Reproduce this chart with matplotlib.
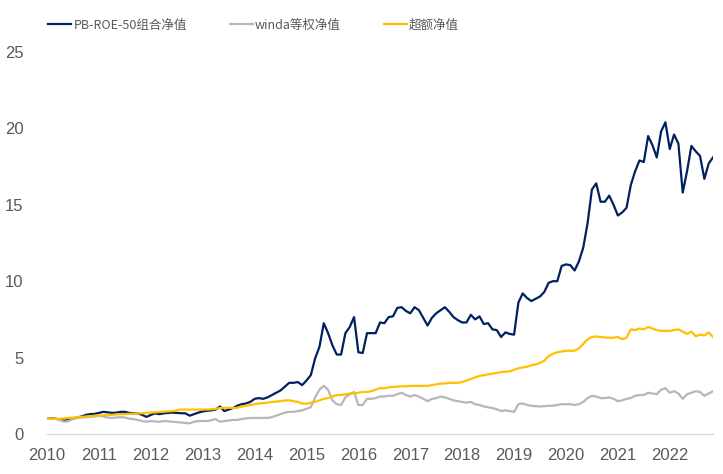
import matplotlib
matplotlib.use("Agg")
import matplotlib.pyplot as plt
from matplotlib.lines import Line2D

# monthly net values, Jan 2010 .. Nov 2022
pb_roe = [1.00, 1.02, 1.00, 0.95, 0.88, 0.92, 1.00, 1.08, 1.15, 1.25, 1.30, 1.32,
          1.38, 1.45, 1.42, 1.38, 1.40, 1.45, 1.45, 1.38, 1.36, 1.35, 1.25, 1.12,
          1.25, 1.35, 1.30, 1.35, 1.38, 1.40, 1.38, 1.36, 1.35, 1.20, 1.30, 1.40,
          1.48, 1.52, 1.55, 1.60, 1.80, 1.50, 1.60, 1.70, 1.85, 1.95, 2.00, 2.10,
          2.30, 2.35, 2.30, 2.40, 2.55, 2.70, 2.85, 3.10, 3.35, 3.35, 3.40, 3.20,
          3.50, 3.85, 4.95, 5.70, 7.25, 6.60, 5.80, 5.20, 5.20, 6.60, 7.00, 7.65,
          5.35, 5.30, 6.60, 6.60, 6.60, 7.30, 7.25, 7.65, 7.70, 8.25, 8.30, 8.05,
          7.90, 8.30, 8.10, 7.60, 7.10, 7.60, 7.90, 8.10, 8.30, 8.00, 7.65, 7.45,
          7.30, 7.30, 7.80, 7.50, 7.70, 7.20, 7.25, 6.85, 6.80, 6.35, 6.65, 6.55,
          6.50, 8.60, 9.20, 8.90, 8.70, 8.85, 9.00, 9.30, 9.90, 10.0, 10.0, 11.0,
          11.1, 11.05, 10.7, 11.3, 12.2, 13.8, 16.0, 16.4, 15.2, 15.2, 15.6, 15.0,
          14.3, 14.5, 14.8, 16.3, 17.2, 17.9, 17.8, 19.5, 18.9, 18.1, 19.8, 20.4,
          18.65, 19.6, 19.0, 15.8, 17.2, 18.85, 18.5, 18.2, 16.7, 17.7, 18.1]

winda = [1.00, 1.00, 1.00, 0.90, 0.80, 0.85, 0.98, 1.05, 1.08, 1.10, 1.12, 1.15,
         1.20, 1.15, 1.08, 1.05, 1.08, 1.10, 1.08, 1.00, 0.98, 0.92, 0.85, 0.80,
         0.85, 0.82, 0.80, 0.85, 0.83, 0.80, 0.78, 0.75, 0.72, 0.70, 0.80, 0.85,
         0.85, 0.85, 0.90, 0.98, 0.80, 0.85, 0.88, 0.92, 0.92, 0.98, 1.02, 1.05,
         1.05, 1.05, 1.05, 1.05, 1.10, 1.20, 1.30, 1.40, 1.45, 1.45, 1.50, 1.55,
         1.65, 1.75, 2.40, 2.90, 3.15, 2.90, 2.20, 1.95, 1.90, 2.40, 2.60, 2.75,
         1.90, 1.90, 2.30, 2.30, 2.35, 2.45, 2.45, 2.50, 2.50, 2.60, 2.70, 2.55,
         2.45, 2.55, 2.45, 2.30, 2.15, 2.30, 2.35, 2.45, 2.40, 2.30, 2.20, 2.15,
         2.10, 2.05, 2.10, 1.95, 1.90, 1.80, 1.75, 1.70, 1.62, 1.50, 1.55, 1.50,
         1.45, 1.95, 2.00, 1.90, 1.85, 1.82, 1.80, 1.82, 1.85, 1.85, 1.90, 1.95,
         1.95, 1.95, 1.90, 1.95, 2.10, 2.35, 2.50, 2.45, 2.35, 2.35, 2.40, 2.30,
         2.15, 2.20, 2.30, 2.35, 2.50, 2.55, 2.55, 2.70, 2.65, 2.60, 2.90, 3.00,
         2.70, 2.80, 2.65, 2.30, 2.60, 2.70, 2.80, 2.75, 2.50, 2.65, 2.80]

excess = [1.00, 0.99, 0.98, 1.00, 1.02, 1.05, 1.08, 1.10, 1.12, 1.15, 1.17, 1.20,
          1.20, 1.22, 1.25, 1.25, 1.28, 1.30, 1.30, 1.32, 1.33, 1.35, 1.36, 1.38,
          1.40, 1.42, 1.44, 1.46, 1.48, 1.50, 1.55, 1.60, 1.60, 1.60, 1.60, 1.60,
          1.60, 1.60, 1.62, 1.65, 1.70, 1.72, 1.72, 1.70, 1.72, 1.80, 1.85, 1.90,
          1.95, 2.00, 2.02, 2.05, 2.10, 2.12, 2.15, 2.20, 2.20, 2.15, 2.10, 2.00,
          1.98, 2.05, 2.10, 2.20, 2.30, 2.35, 2.45, 2.55, 2.55, 2.60, 2.65, 2.65,
          2.70, 2.75, 2.75, 2.80, 2.90, 3.00, 3.00, 3.05, 3.08, 3.10, 3.12, 3.12,
          3.15, 3.15, 3.15, 3.15, 3.15, 3.20, 3.25, 3.30, 3.30, 3.35, 3.35, 3.35,
          3.40, 3.50, 3.60, 3.70, 3.80, 3.85, 3.90, 3.95, 4.00, 4.05, 4.08, 4.10,
          4.20, 4.30, 4.35, 4.40, 4.50, 4.55, 4.65, 4.80, 5.10, 5.25, 5.35, 5.40,
          5.45, 5.45, 5.45, 5.60, 5.90, 6.20, 6.35, 6.38, 6.35, 6.32, 6.30, 6.30,
          6.35, 6.20, 6.30, 6.85, 6.80, 6.90, 6.85, 7.00, 6.90, 6.80, 6.75, 6.75,
          6.75, 6.80, 6.85, 6.70, 6.55, 6.70, 6.40, 6.50, 6.45, 6.65, 6.35]

years = list(range(2010, 2023))
labels = ["PB-ROE-50组合净值", "winda等权净值", "超额净值"]
colors = ["#002060", "#B7B7B7", "#FFC000"]

fig = plt.figure(figsize=(7.23, 4.74), dpi=100)
ax = fig.add_axes([47 / 723, 1 - 434 / 474, (713 - 47) / 723, (434 - 52) / 474])

x = range(len(pb_roe))
for s, c in zip([pb_roe, winda, excess], colors):
    ax.plot(x, s, color=c, lw=1.6, solid_joinstyle="round")

ax.set_xlim(0, len(pb_roe) - 1)
ax.set_ylim(0, 25)
ax.set_yticks([0, 5, 10, 15, 20, 25])
ax.set_xticks([12 * i for i in range(len(years))])
ax.set_xticklabels([str(y) for y in years])
for sp in ["top", "right", "left"]:
    ax.spines[sp].set_visible(False)
ax.spines["bottom"].set_color("#D9D9D9")
ax.spines["bottom"].set_linewidth(1.0)
ax.tick_params(axis="both", length=0, colors="#595959", labelsize=12)
ax.tick_params(axis="y", pad=17)
ax.tick_params(axis="x", pad=10)
for t in ax.get_xticklabels() + ax.get_yticklabels():
    t.set_fontfamily("Liberation Sans")

handles = [Line2D([], [], color=c, lw=1.6) for c in colors]
leg = fig.legend(handles, labels, loc="center left", bbox_to_anchor=(43 / 723, 1 - 25 / 474),
                 ncol=3, frameon=False, handlelength=1.85, handletextpad=0.2,
                 columnspacing=3.4, borderaxespad=0,
                 prop={"family": ["Noto Sans CJK SC", "DejaVu Sans"], "size": 9})
for t in leg.get_texts():
    t.set_color("#595959")

fig.savefig("out.png", dpi=100)
